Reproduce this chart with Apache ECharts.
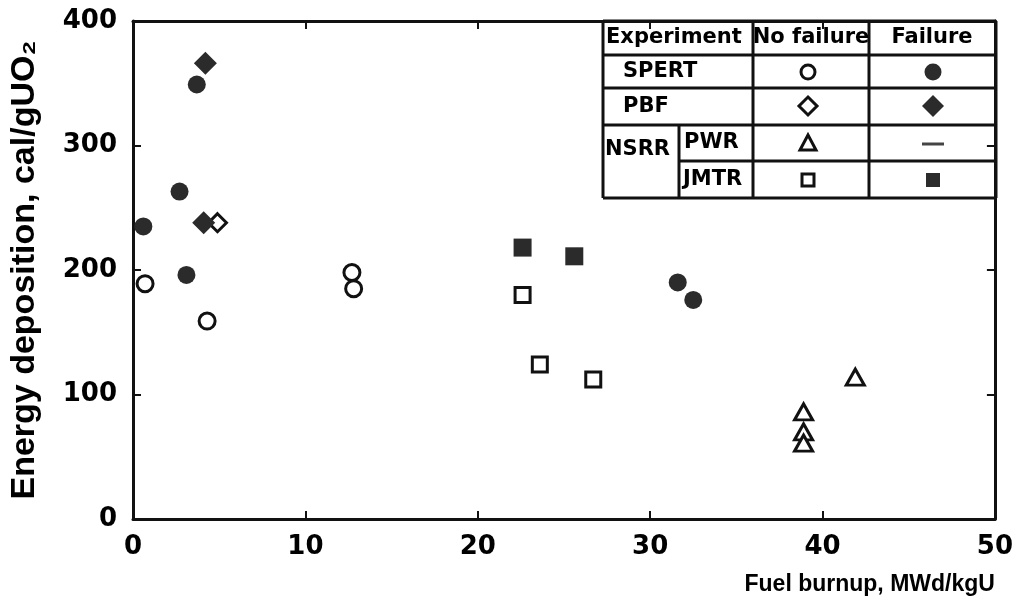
<!DOCTYPE html>
<html lang="en">
<head>
    <meta charset="UTF-8">
    <title>Energy deposition vs fuel burnup</title>
    <script src="https://fastly.jsdelivr.net/npm/echarts@6.0.0/dist/echarts.min.js"></script>
    <style>
        body { margin: 0; background: #fff; }
        #chart { width: 1016px; height: 601px; }
    </style>
</head>
<body>
    <div id="chart"></div>
    <script>
        // data: [burnup MWd/kgU, energy cal/gUO2]
        var spertOk = [[0.7, 189], [4.3, 159], [12.7, 198], [12.8, 185]];
        var spertFail = [[0.6, 235], [2.7, 263], [3.1, 196], [3.7, 349], [31.6, 190], [32.5, 176]];
        var pbfOk = [[4.9, 238]];
        var pbfFail = [[4.2, 366], [4.1, 238]];
        var pwrOk = [[41.9, 114], [38.9, 86], [38.9, 70], [38.9, 61]];
        var jmtrOk = [[22.6, 180], [23.6, 124], [26.7, 112]];
        var jmtrFail = [[22.6, 218], [25.6, 211]];

        var xTicks = [0, 10, 20, 30, 40, 50];
        var yTicks = [0, 100, 200, 300, 400];

        var bold = 'DejaVu Sans';
        var ink = '#111';
        var fillInk = '#2b2b2b';

        function openStyle() {
            return { color: '#fff', borderColor: ink, borderWidth: 3, opacity: 1 };
        }
        function solidStyle() {
            return { color: fillInk, opacity: 1 };
        }

        // legend table drawn as a grid of lines
        var tx = [603, 679, 753, 869, 996];
        var ty = [21, 55, 88, 125, 161, 198];
        var tableEls = [];
        tableEls.push({ type: 'rect', shape: { x: tx[0], y: ty[0], width: tx[4] - tx[0], height: ty[5] - ty[0] }, style: { fill: '#fff' } });
        [0, 1, 2, 3, 5].forEach(function (i) {
            tableEls.push({ type: 'line', shape: { x1: tx[0], y1: ty[i], x2: tx[4], y2: ty[i] }, style: { stroke: ink, lineWidth: 3 } });
        });
        tableEls.push({ type: 'line', shape: { x1: tx[1], y1: ty[4], x2: tx[4], y2: ty[4] }, style: { stroke: ink, lineWidth: 3 } });
        [0, 2, 3, 4].forEach(function (i) {
            tableEls.push({ type: 'line', shape: { x1: tx[i], y1: ty[0], x2: tx[i], y2: ty[5] }, style: { stroke: ink, lineWidth: 3 } });
        });
        tableEls.push({ type: 'line', shape: { x1: tx[1], y1: ty[3], x2: tx[1], y2: ty[5] }, style: { stroke: ink, lineWidth: 3 } });

        function label(text, x, y, align) {
            return {
                type: 'text', x: x, y: y,
                style: { text: text, font: 'bold 21px ' + bold, fill: '#000', align: align || 'left', verticalAlign: 'middle' }
            };
        }
        tableEls.push(label('Experiment', 606, 38));
        tableEls.push(label('No failure', 811, 38, 'center'));
        tableEls.push(label('Failure', 932, 38, 'center'));
        tableEls.push(label('SPERT', 623, 72));
        tableEls.push(label('PBF', 623, 107));
        tableEls.push(label('NSRR', 605, 150));
        tableEls.push(label('PWR', 684, 143));
        tableEls.push(label('JMTR', 683, 180));

        var cx1 = 808, cx2 = 933;
        tableEls.push({ type: 'circle', shape: { cx: cx1, cy: 72, r: 7 }, style: { fill: '#fff', stroke: ink, lineWidth: 3 } });
        tableEls.push({ type: 'circle', shape: { cx: cx2, cy: 72, r: 8.5 }, style: { fill: fillInk } });
        tableEls.push({ type: 'polygon', shape: { points: [[cx1, 97], [cx1 + 9, 106], [cx1, 115], [cx1 - 9, 106]] }, style: { fill: '#fff', stroke: ink, lineWidth: 3 } });
        tableEls.push({ type: 'polygon', shape: { points: [[cx2, 95], [cx2 + 11, 106], [cx2, 117], [cx2 - 11, 106]] }, style: { fill: fillInk } });
        tableEls.push({ type: 'polygon', shape: { points: [[cx1, 135], [cx1 + 8, 150], [cx1 - 8, 150]] }, style: { fill: '#fff', stroke: ink, lineWidth: 3 } });
        tableEls.push({ type: 'line', shape: { x1: cx2 - 11, y1: 144, x2: cx2 + 11, y2: 144 }, style: { stroke: '#444', lineWidth: 3 } });
        tableEls.push({ type: 'rect', shape: { x: cx1 - 6, y: 174, width: 12, height: 12 }, style: { fill: '#fff', stroke: ink, lineWidth: 3 } });
        tableEls.push({ type: 'rect', shape: { x: cx2 - 7, y: 173, width: 14, height: 14 }, style: { fill: fillInk } });

        var chart = echarts.init(document.getElementById('chart'));

        function axisLine() {
            return { show: true, onZero: false, lineStyle: { color: ink, width: 3 } };
        }
        function axisTick() {
            return { show: true, inside: true, length: 8, lineStyle: { color: ink, width: 2 } };
        }
        function tickFont(margin) {
            return { margin: margin, fontFamily: bold, fontWeight: 'bold', fontSize: 26, color: '#000' };
        }

        var option = {
            backgroundColor: '#fff',
            animation: false,
            grid: { left: 133, right: 20, top: 21, bottom: 82 },
            xAxis: [{
                type: 'value', min: xTicks[0], max: xTicks[xTicks.length - 1], interval: 10,
                position: 'bottom',
                axisLine: axisLine(), axisTick: axisTick(), splitLine: { show: false },
                axisLabel: tickFont(15),
                name: 'Fuel burnup, MWd/kgU',
                nameLocation: 'end', nameGap: 0,
                nameTextStyle: {
                    fontFamily: 'Liberation Sans', fontWeight: 'bold', fontSize: 23, color: '#000',
                    align: 'right', verticalAlign: 'top', padding: [54, 0, 0, 0]
                }
            }, {
                type: 'value', min: xTicks[0], max: xTicks[xTicks.length - 1], interval: 10,
                position: 'top',
                axisLine: axisLine(), axisTick: axisTick(), splitLine: { show: false },
                axisLabel: { show: false }
            }],
            yAxis: [{
                type: 'value', min: yTicks[0], max: yTicks[yTicks.length - 1], interval: 100,
                position: 'left',
                axisLine: axisLine(), axisTick: axisTick(), splitLine: { show: false },
                axisLabel: tickFont(16),
                name: 'Energy deposition, cal/gUO₂',
                nameLocation: 'middle', nameRotate: 90, nameGap: 91,
                nameTextStyle: { fontFamily: 'Liberation Sans', fontWeight: 'bold', fontSize: 34, color: '#000' }
            }, {
                type: 'value', min: yTicks[0], max: yTicks[yTicks.length - 1], interval: 100,
                position: 'right',
                axisLine: axisLine(), axisTick: axisTick(), splitLine: { show: false },
                axisLabel: { show: false }
            }],
            series: [
                { name: 'SPERT no failure', type: 'scatter', data: spertOk, symbol: 'circle', symbolSize: 16, itemStyle: openStyle() },
                { name: 'SPERT failure', type: 'scatter', data: spertFail, symbol: 'circle', symbolSize: 18, itemStyle: solidStyle() },
                { name: 'PBF no failure', type: 'scatter', data: pbfOk, symbol: 'diamond', symbolSize: 18, itemStyle: openStyle() },
                { name: 'PBF failure', type: 'scatter', data: pbfFail, symbol: 'diamond', symbolSize: 23, itemStyle: solidStyle() },
                { name: 'NSRR PWR no failure', type: 'scatter', data: pwrOk, symbol: 'triangle', symbolSize: [18, 16], itemStyle: openStyle() },
                { name: 'NSRR JMTR no failure', type: 'scatter', data: jmtrOk, symbol: 'rect', symbolSize: 15, itemStyle: openStyle() },
                { name: 'NSRR JMTR failure', type: 'scatter', data: jmtrFail, symbol: 'rect', symbolSize: 18, itemStyle: solidStyle() }
            ],
            graphic: [{ type: 'group', z: 100, children: tableEls }]
        };
        chart.setOption(option);
    </script>
</body>
</html>
